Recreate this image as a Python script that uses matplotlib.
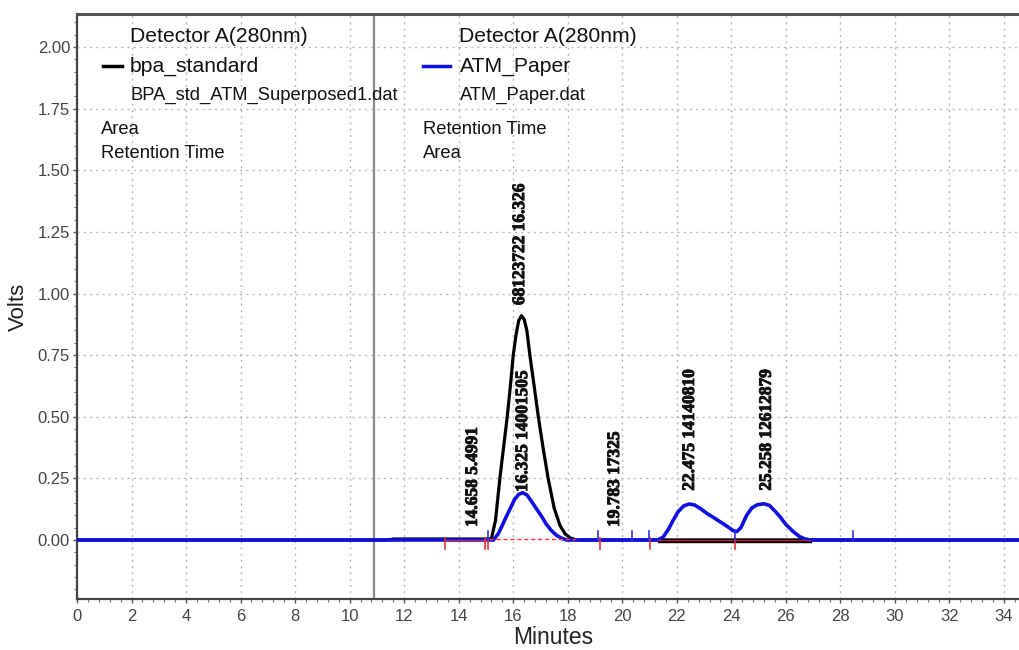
import matplotlib
matplotlib.use("Agg")
import matplotlib.pyplot as plt
import matplotlib.patheffects as pe
from matplotlib.ticker import MultipleLocator, FormatStrFormatter

# ---- data ----
black_t = [0, 11.4, 11.6, 15.0, 15.2, 15.35, 15.51, 15.65, 15.78, 15.9, 16.0, 16.1, 16.2, 16.3,
           16.4, 16.5, 16.61, 16.76, 16.92, 17.1, 17.28, 17.5, 17.71, 17.9, 18.1, 18.32, 34.6]
black_v = [0, 0, 0.004, 0.004, 0.005, 0.08, 0.25, 0.38, 0.5, 0.63, 0.75, 0.83, 0.89, 0.91,
           0.895, 0.85, 0.75, 0.63, 0.5, 0.37, 0.25, 0.13, 0.06, 0.025, 0.008, 0.0, 0]

blue_t = [0, 15.27, 15.45, 15.6, 15.75, 15.9, 16.05, 16.2, 16.34, 16.5, 16.65, 16.8, 17.04, 17.2,
          17.4, 17.6, 17.8, 17.96, 21.3, 21.5, 21.7, 21.87, 22.05, 22.25, 22.45, 22.65, 22.9, 23.1,
          23.35, 23.6, 23.85, 24.05, 24.2, 24.35, 24.56, 24.75, 24.95, 25.2, 25.4, 25.6, 25.78,
          26.0, 26.27, 26.5, 26.7, 26.9, 34.6]
blue_v = [0, 0.0, 0.025, 0.06, 0.096, 0.13, 0.165, 0.185, 0.192, 0.183, 0.16, 0.135, 0.096, 0.066,
          0.038, 0.018, 0.006, 0.0, 0.0, 0.012, 0.045, 0.081, 0.115, 0.138, 0.146, 0.142, 0.125, 0.108,
          0.091, 0.073, 0.055, 0.039, 0.034, 0.05, 0.1, 0.13, 0.143, 0.147, 0.14, 0.117, 0.095,
          0.063, 0.034, 0.014, 0.004, 0.0, 0]

# integration marks
red_ticks = [13.5, 14.97, 15.08, 19.2, 21.01, 24.15]
blue_ticks = [15.08, 19.1, 20.34, 20.97, 24.15, 28.46]
red_dashed_span = [15.1, 18.3]
red_solid_spans = [[13.5, 15.0], [21.3, 26.9]]
black_base_span = [21.3, 26.95]

# peak labels: (time, bottom volts, text)
peak_label_t = [14.52, 16.36, 16.25, 19.73, 22.48, 25.30]
peak_label_v = [0.053, 0.195, 0.953, 0.053, 0.20, 0.20]
peak_label_s = ["14.658 5.4991", "16.325 14001505", "68123722 16.326",
                "19.783 17325", "22.475 14140810", "25.258 12612879"]

x_ticks = list(range(0, 35, 2))
y_ticks = [0.0, 0.25, 0.5, 0.75, 1.0, 1.25, 1.5, 1.75, 2.0]
ret_line_t = 10.89

W, H = 1019, 650
fig = plt.figure(figsize=(W / 100, H / 100), dpi=100)
fig.patch.set_facecolor("white")
ax = fig.add_axes([77 / W, 51 / H, 1 - 77 / W, 585 / H])
ax.set_xlim(0, 34.55)
ax.set_ylim(-0.2394, 2.134)

# grid
for xt in x_ticks[1:]:
    ax.axvline(xt, color="#b8b8b8", lw=1.0, ls=(0, (1.5, 3)), zorder=0)
for yt in y_ticks[1:]:
    ax.axhline(yt, color="#b8b8b8", lw=1.0, ls=(0, (1.5, 3)), zorder=0)

ax.axvline(ret_line_t, color="#8a8a8a", lw=1.6, zorder=1)

# black base under blue doublet
ax.plot(black_base_span, [-0.004, -0.004], color="black", lw=3.2, solid_capstyle="butt", zorder=2)

ax.plot(black_t, black_v, color="black", lw=2.3, zorder=3)
ax.plot(blue_t, blue_v, color="#1010e0", lw=2.6, zorder=4)

# integration baseline marks
ax.plot(red_dashed_span, [0.002, 0.002], color="#ff3030", lw=1.0, ls=(0, (3, 2)), zorder=5)
for s in red_solid_spans:
    ax.plot(s, [-0.001, -0.001], color="#e03040", lw=1.0, alpha=0.8, zorder=5)
for t in red_ticks:
    ax.plot([t, t], [-0.035, 0.008], color="#e83030", lw=1.2, zorder=5)
for t in blue_ticks:
    ax.plot([t, t], [0.0, 0.035], color="#3030e0", lw=1.2, zorder=5)

for t, v, s in zip(peak_label_t, peak_label_v, peak_label_s):
    ax.text(t, v, s, rotation=90, ha="center", va="bottom", fontsize=12.5,
            family="Liberation Serif", fontweight="bold", color="#111111", zorder=6,
            path_effects=[pe.withStroke(linewidth=0.7, foreground="#111111")])

# axes styling
ax.set_xticks(x_ticks)
ax.set_yticks(y_ticks)
ax.yaxis.set_major_formatter(FormatStrFormatter("%.2f"))
ax.xaxis.set_minor_locator(MultipleLocator(0.4))
ax.yaxis.set_minor_locator(MultipleLocator(0.05))
ax.tick_params(axis="both", which="major", length=3, color="#555555", labelsize=12,
               labelcolor="#444444", width=1)
ax.tick_params(axis="both", which="minor", length=2.5, color="#777777", width=0.8)
ax.tick_params(axis="x", pad=4)
ax.tick_params(axis="y", pad=2)
for lab in ax.get_xticklabels() + ax.get_yticklabels():
    lab.set_family("Liberation Sans")

ax.spines["right"].set_visible(False)
ax.spines["top"].set_color("#555555")
ax.spines["top"].set_linewidth(2.2)
ax.spines["left"].set_color("#444444")
ax.spines["left"].set_linewidth(1.6)
ax.spines["bottom"].set_color("#444444")
ax.spines["bottom"].set_linewidth(1.6)

fig.text(553 / W, 1 - 638 / H, "Minutes", ha="center", va="center", fontsize=16.5,
         family="Liberation Sans", color="#222222")
fig.text(18 / W, 1 - 307 / H, "Volts", ha="center", va="center", rotation=90, fontsize=16,
         family="Liberation Sans", color="#222222")

# legend-like text blocks
lf = "Liberation Sans"
def ft(x, y, s, size=13.2):
    fig.text(x / W, 1 - y / H, s, ha="left", va="center", fontsize=size, family=lf, color="#111111")

ft(130, 37, "Detector A(280nm)", 15.2)
ft(130, 66, "bpa_standard", 15.2)
ft(130, 95, "BPA_std_ATM_Superposed1.dat")
ft(101, 130, "Area")
ft(101, 153, "Retention Time")
fig.lines.append(plt.Line2D([103 / W, 122 / W], [1 - 66 / H, 1 - 66 / H], color="black", lw=2.5,
                            transform=fig.transFigure))

ft(459, 37, "Detector A(280nm)", 15.2)
ft(460, 66, "ATM_Paper", 15.2)
ft(460, 95, "ATM_Paper.dat")
ft(423, 130, "Retention Time")
ft(423, 153, "Area")
fig.lines.append(plt.Line2D([423 / W, 450 / W], [1 - 66 / H, 1 - 66 / H], color="#1010e0", lw=2.5,
                            transform=fig.transFigure))

fig.savefig("out.png", dpi=100, facecolor="white")
